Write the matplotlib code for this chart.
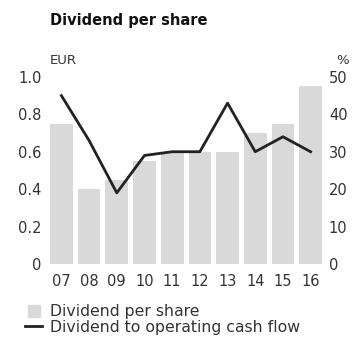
import numpy as np
import matplotlib.pyplot as plt
from matplotlib.lines import Line2D

years = ["07", "08", "09", "10", "11", "12", "13", "14", "15", "16"]
dividend_eur = [0.75, 0.40, 0.45, 0.55, 0.60, 0.60, 0.60, 0.70, 0.75, 0.95]
payout_pct = [45, 33, 19, 29, 30, 30, 43, 30, 34, 30]

BAR_COLOR = "#d9d9d9"
LINE_COLOR = "#222222"
TEXT_COLOR = "#333333"

plt.rcParams.update({
    "font.family": "DejaVu Sans",
    "font.size": 10.5,
    "text.color": TEXT_COLOR,
    "xtick.color": TEXT_COLOR,
    "ytick.color": TEXT_COLOR,
})

fig = plt.figure(figsize=(3.55, 3.45), dpi=100)
ax = fig.add_axes([0.141, 0.235, 0.766, 0.542])
ax2 = ax.twinx()

x = np.arange(len(years))
ax.bar(x, dividend_eur, width=0.82, color=BAR_COLOR, zorder=1)
ax2.plot(x, payout_pct, color=LINE_COLOR, lw=2.0, zorder=3)

ax.set_xlim(-0.41, len(years) - 1 + 0.41)
ax.set_ylim(0, 1.0)
ax2.set_ylim(0, 50)
ax.set_yticks([0, 0.2, 0.4, 0.6, 0.8, 1.0], ["0", "0.2", "0.4", "0.6", "0.8", "1.0"])
ax2.set_yticks([0, 10, 20, 30, 40, 50])
ax.set_xticks(x, years)

for a in (ax, ax2):
    for s in a.spines.values():
        s.set_visible(False)
    a.tick_params(length=0, labelsize=10.5)
ax.tick_params(axis="x", pad=7)
ax.tick_params(axis="y", pad=6)
ax2.tick_params(axis="y", pad=5)

fig.text(50 / 355, 1 - 20 / 345, "Dividend per share", fontsize=10.5, fontweight="bold",
         color="#111111", va="center", ha="left")
fig.text(50 / 355, 1 - 60 / 345, "EUR", fontsize=9.5, va="center", ha="left")
fig.text(349 / 355, 1 - 60 / 345, "%", fontsize=9.5, va="center", ha="right")

handles = [
    Line2D([0], [0], marker="s", ls="none", markersize=9, color=BAR_COLOR),
    Line2D([0], [0], color=LINE_COLOR, lw=2.0),
]
fig.legend(handles, ["Dividend per share", "Dividend to operating cash flow"],
           loc="upper left", bbox_to_anchor=(25 / 355, 1 - 304 / 345), frameon=False,
           handlelength=1.1, handletextpad=0.5, labelspacing=0.05,
           borderaxespad=0, borderpad=0, fontsize=11.3)

fig.savefig("out.png", dpi=100)
